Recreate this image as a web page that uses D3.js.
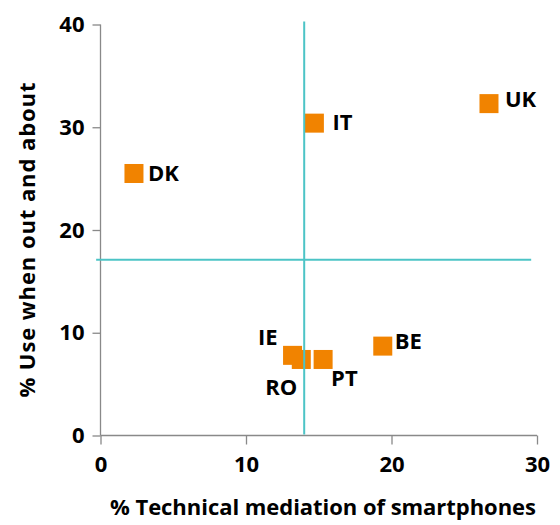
<!DOCTYPE html>
<html>
<head>
<meta charset="utf-8">
<script src="https://cdn.jsdelivr.net/npm/d3@7"></script>
<style>
  html, body { margin: 0; padding: 0; background: #fff; }
  svg { display: block; }
  text { font-family: "Open Sans", Lato, sans-serif; font-weight: 700; fill: #000; }
</style>
</head>
<body>
<svg id="chart" width="560" height="525"></svg>
<script>
// Country codes and their scores
const countries = ["UK", "IT", "DK", "IE", "RO", "PT", "BE"];
const mediation = [26.7, 14.7, 2.3, 13.2, 13.8, 15.3, 19.4];   // % technical mediation of smartphones
const outAndAbout = [32.3, 30.4, 25.5, 7.8, 7.4, 7.4, 8.7];   // % use when out and about

// Axis ticks
const xTicks = [0, 10, 20, 30];
const yTicks = [0, 10, 20, 30, 40];

// Average cross-hair lines (data units)
const vLineX = 14.0, vLineY = [0.1, 40.3];
const hLineY = 17.1, hLineX = [-0.3, 29.6];

// Label placement relative to each marker
const labelPlacement = {
  UK: { dx: 16, dy: 3, anchor: "start" },
  IT: { dx: 18, dy: 6.5, anchor: "start" },
  DK: { dx: 14, dy: 8, anchor: "start" },
  IE: { dx: -15, dy: -10, anchor: "end" },
  RO: { dx: -36, dy: 35.5, anchor: "start" },
  PT: { dx: 8, dy: 26.5, anchor: "start" },
  BE: { dx: 12, dy: 3, anchor: "start" }
};

const svg = d3.select("#chart");
const x = d3.scaleLinear().domain([0, 30]).range([100.5, 537]);
const y = d3.scaleLinear().domain([0, 40]).range([435.5, 24.5]);

const axisColor = "#898989";
const fontSize = 22;

// Y axis
const gy = svg.append("g").attr("transform", `translate(${x(0)},0)`)
  .call(d3.axisLeft(y).tickValues(yTicks).tickSize(8).tickPadding(8).tickFormat(d3.format("d")));
gy.select(".domain").attr("stroke", axisColor).attr("stroke-width", 1.3)
  .attr("d", `M0,${y(0)}V${y(40)}`);
gy.selectAll(".tick line").attr("stroke", axisColor).attr("stroke-width", 1.3);
gy.selectAll(".tick text").attr("font-size", fontSize).attr("font-family", null).attr("fill", "#000");

// X axis
const gx = svg.append("g").attr("transform", `translate(0,${y(0)})`)
  .call(d3.axisBottom(x).tickValues(xTicks).tickSize(9).tickPadding(12).tickFormat(d3.format("d")));
gx.select(".domain").attr("stroke", axisColor).attr("stroke-width", 1.3)
  .attr("d", `M${x(0)},0H${x(30)}`);
gx.selectAll(".tick line").attr("stroke", axisColor).attr("stroke-width", 1.3);
gx.selectAll(".tick text").attr("font-size", fontSize).attr("font-family", null).attr("fill", "#000");

// Axis titles
svg.append("text")
  .attr("x", 323).attr("y", 515)
  .attr("text-anchor", "middle").attr("font-size", fontSize)
  .attr("textLength", 426).attr("lengthAdjust", "spacing")
  .text("% Technical mediation of smartphones");
svg.append("text")
  .attr("transform", "translate(35,240) rotate(-90)")
  .attr("text-anchor", "middle").attr("font-size", fontSize)
  .attr("textLength", 315).attr("lengthAdjust", "spacing")
  .text("% Use when out and about");

// Markers
const data = countries.map((c, i) => ({ c, mx: mediation[i], my: outAndAbout[i] }));
const size = 19;
svg.append("g").selectAll("rect").data(data).join("rect")
  .attr("x", d => x(d.mx) - size / 2)
  .attr("y", d => y(d.my) - size / 2)
  .attr("width", size).attr("height", size)
  .attr("fill", "#F18300");

// Cross-hair lines drawn over the markers
const lineColor = "#4CC4C6";
svg.append("line")
  .attr("x1", x(vLineX)).attr("x2", x(vLineX))
  .attr("y1", y(vLineY[0])).attr("y2", y(vLineY[1]))
  .attr("stroke", lineColor).attr("stroke-width", 2);
svg.append("line")
  .attr("x1", x(hLineX[0])).attr("x2", x(hLineX[1]))
  .attr("y1", y(hLineY)).attr("y2", y(hLineY))
  .attr("stroke", lineColor).attr("stroke-width", 2);

// Country labels
svg.append("g").selectAll("text").data(data).join("text")
  .attr("x", d => x(d.mx) + labelPlacement[d.c].dx)
  .attr("y", d => y(d.my) + labelPlacement[d.c].dy)
  .attr("text-anchor", d => labelPlacement[d.c].anchor)
  .attr("font-size", fontSize)
  .text(d => d.c);
</script>
</body>
</html>
